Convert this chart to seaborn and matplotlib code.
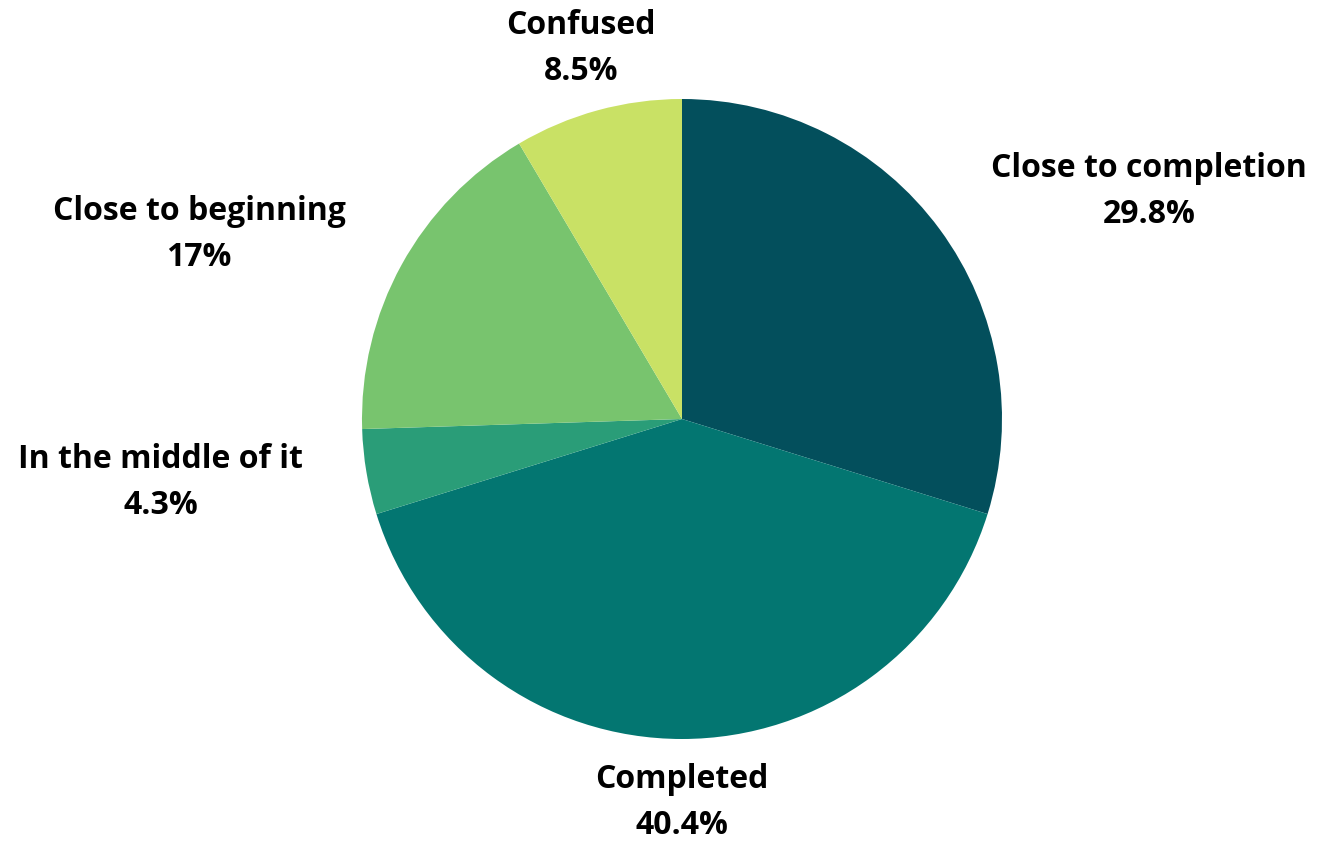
import numpy as np
import matplotlib
matplotlib.use("Agg")
import matplotlib.pyplot as plt
import seaborn as sns

categories = ["Close to completion", "Completed", "In the middle of it",
              "Close to beginning", "Confused"]
values = [29.8, 40.4, 4.3, 17, 8.5]
value_labels = ["29.8%", "40.4%", "4.3%", "17%", "8.5%"]
colors = ["#034F5C", "#037671", "#2A9D78", "#78C46E", "#C9E165"]

sns.set_theme(style="white")
plt.rcParams["font.family"] = ["Open Sans", "DejaVu Sans"]

fig = plt.figure(figsize=(13.17, 8.43), dpi=100)
ax = fig.add_axes([0, 0, 1, 1])
palette = sns.color_palette(colors)

wedges, _ = ax.pie(values, colors=palette, startangle=90, counterclock=False,
                   radius=1.0, wedgeprops=dict(linewidth=0))

total = sum(values)
cum = 0.0
for cat, v, lab in zip(categories, values, value_labels):
    mid = 90 - (cum + v / 2) / total * 360
    cum += v
    ang = np.deg2rad(mid)
    x, y = 1.2 * np.cos(ang), 1.2 * np.sin(ang)
    if x > 0.4:
        ha = "left"
    elif x < -0.4:
        ha = "right"
    else:
        ha = "center"
    ax.text(x, y, f"{cat}\n{lab}", ha=ha, va="center", multialignment="center",
            fontsize=23, fontweight="bold", color="black", linespacing=1.52)

ax.set_xlim(-682 / 320, (1317 - 682) / 320)
ax.set_ylim(-(843 - 419) / 320, 419 / 320)
ax.set_aspect("equal")
ax.axis("off")
fig.savefig("out.png", dpi=100, facecolor="white")
